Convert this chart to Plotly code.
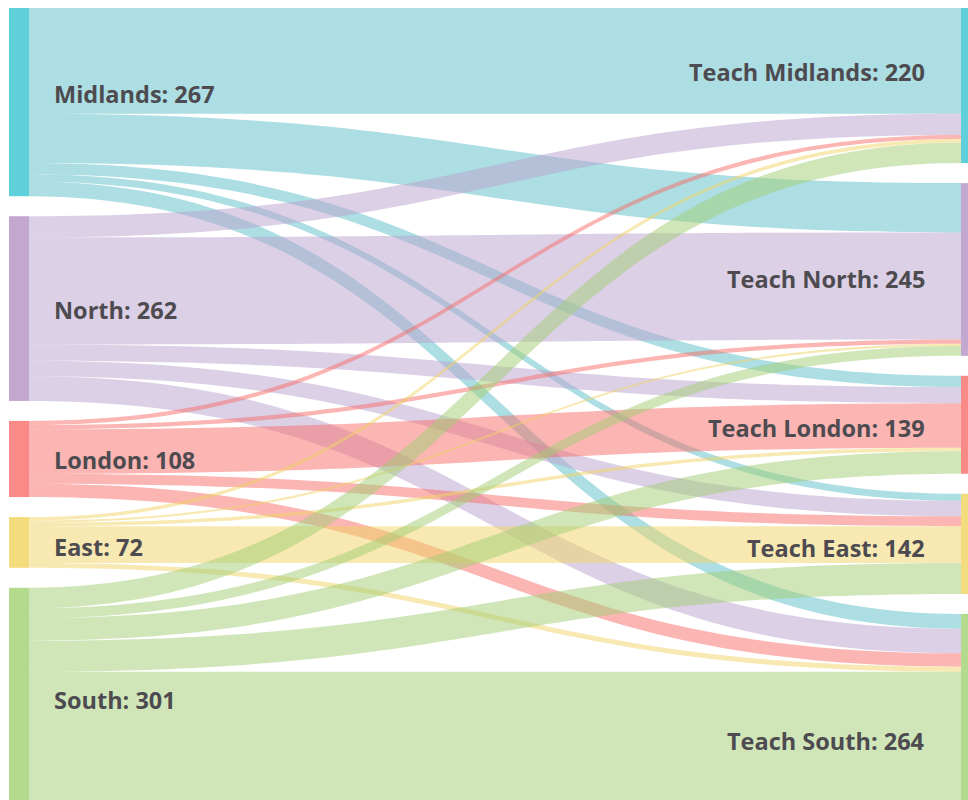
import plotly.graph_objects as go
import numpy as np

# ---- data ----
sources = ["Midlands", "North", "London", "East", "South"]
targets = ["Teach Midlands", "Teach North", "Teach London", "Teach East", "Teach South"]

# flows: rows = source region, columns = teaching region
flow_midlands = [150, 70, 16, 10, 21]
flow_north = [30, 152, 23, 22, 35]
flow_london = [6, 6, 63, 14, 19]
flow_east = [5, 3, 5, 52, 7]
flow_south = [29, 14, 32, 44, 182]

node_colors = ["#5fcfd9", "#c3a7cf", "#fa8a88", "#f3dc7d", "#b4da8e"]
link_colors = ["rgba(89,189,199,0.5)", "rgba(185,161,205,0.5)", "rgba(247,107,103,0.5)",
               "rgba(239,211,99,0.5)", "rgba(161,205,115,0.5)"]

# label anchor positions (page pixels)
left_label_y = [94, 310, 460, 547, 700]
right_label_y = [72, 279, 428, 548, 741]

# ---- build ----
flows = np.array([flow_midlands, flow_north, flow_london, flow_east, flow_south])
src_tot = flows.sum(axis=1)
tgt_tot = flows.sum(axis=0)

n = len(sources)
link_s, link_t, link_v, link_c = [], [], [], []
for i in range(n):
    for j in range(n):
        link_s.append(i)
        link_t.append(n + j)
        link_v.append(int(flows[i, j]))
        link_c.append(link_colors[i])

ML, MT = 8, 8
PW, PH = 973, 792
W, H = ML + PW, MT + PH
PAD, THICK = 20, 20

# node centres (normalised) so that the input order is kept in each column
k = (PH - (n - 1) * PAD) / flows.sum()


def centres(totals):
    tops = np.concatenate([[0], np.cumsum(totals)[:-1]]) * k + np.arange(n) * PAD
    return list((tops + totals * k / 2) / PH)


node_y = centres(src_tot) + centres(tgt_tot)
node_x = [11 / PW] * n + [963 / PW] * n

fig = go.Figure(go.Sankey(
    arrangement="fixed",
    node=dict(
        label=[""] * (2 * n),
        customdata=sources + targets,
        hovertemplate="%{customdata}: %{value}<extra></extra>",
        color=node_colors + node_colors,
        pad=PAD,
        thickness=THICK,
        line=dict(width=0),
        x=node_x,
        y=node_y,
    ),
    link=dict(source=link_s, target=link_t, value=link_v, color=link_c),
))

font = dict(family="Open Sans", size=23.5, color="#4d4b50", weight="bold")
ann = []
for name, tot, py in zip(sources, src_tot, left_label_y):
    ann.append(dict(text=f"{name}: {tot}", x=(52 - ML) / PW, y=1 - (py - MT) / PH,
                    xref="paper", yref="paper", xanchor="left", yanchor="middle",
                    showarrow=False, font=font))
for name, tot, py in zip(targets, tgt_tot, right_label_y):
    ann.append(dict(text=f"{name}: {tot}", x=(927 - ML) / PW, y=1 - (py - MT) / PH,
                    xref="paper", yref="paper", xanchor="right", yanchor="middle",
                    showarrow=False, font=font))

fig.update_layout(width=W, height=H, margin=dict(l=ML, r=0, t=MT, b=0),
                  paper_bgcolor="white", annotations=ann)
fig.write_html(
    "out.html",
    config={"displayModeBar": False},
    post_script="document.body.style.margin='0';"
                "document.documentElement.style.overflow='hidden';"
                "document.body.style.overflow='hidden';",
)
